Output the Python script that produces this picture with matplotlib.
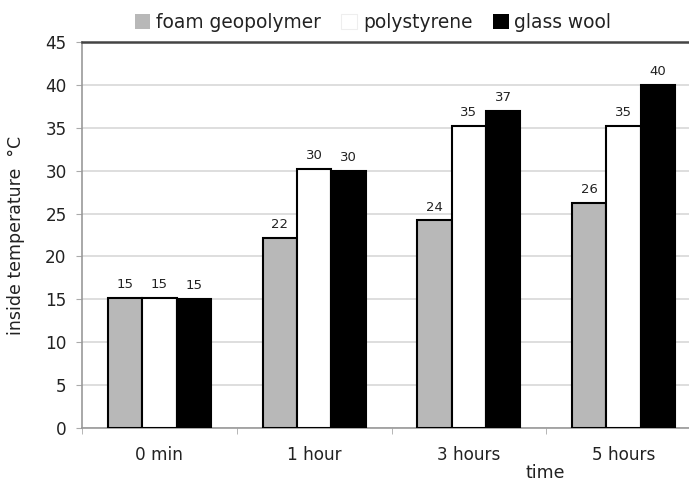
import matplotlib
matplotlib.use("Agg")
import matplotlib.pyplot as plt
import numpy as np

categories = ["0 min", "1 hour", "3 hours", "5 hours"]
series_names = ["foam geopolymer", "polystyrene", "glass wool"]
foam = [15.2, 22.2, 24.2, 26.2]
poly = [15.2, 30.2, 35.2, 35.2]
glass = [15.0, 30.0, 37.0, 40.0]
colors = ["#b8b8b8", "#ffffff", "#000000"]


def main():
    plt.rcParams["font.family"] = ["DejaVu Sans"]
    fig = plt.figure(figsize=(6.89, 4.8), dpi=100)
    ax = fig.add_axes([82 / 689, 1 - 428 / 480, 619 / 689, 386 / 480])

    x = np.arange(len(categories))
    w = 0.222
    for i, (vals, name, c) in enumerate(zip([foam, poly, glass], series_names, colors)):
        ax.bar(x + (i - 1) * w, vals, w, color=c, edgecolor="black",
               linewidth=1.5, label=name, zorder=3)
        for xi, v in zip(x + (i - 1) * w, vals):
            ax.text(xi, v + 0.8, f"{v:.0f}", ha="center", va="bottom",
                    fontsize=9.5, color="#222222")

    ax.set_xlim(-0.5, len(categories) - 0.5)
    ax.set_ylim(0, 45)
    ax.set_yticks(np.arange(0, 46, 5))
    ax.yaxis.grid(True, color="#d8d8d8", linewidth=1.2, zorder=0)
    ax.set_axisbelow(True)

    ax.set_xticks(x)
    ax.set_xticklabels(categories, fontsize=12.2, color="#222222")
    ax.tick_params(axis="x", which="major", length=0, pad=13)
    ax.set_xticks(np.arange(-0.5, len(categories), 1), minor=True)
    ax.tick_params(axis="x", which="minor", length=4, color="#aaaaaa")
    ax.tick_params(axis="y", length=4, color="#aaaaaa", labelsize=12.2,
                   labelcolor="#222222", pad=7)

    for s in ["left", "bottom"]:
        ax.spines[s].set_color("#999999")
        ax.spines[s].set_linewidth(1.2)
    ax.spines["top"].set_color("#444444")
    ax.spines["top"].set_linewidth(1.8)
    ax.spines["right"].set_visible(False)

    ax.set_ylabel("inside temperature  °C", fontsize=12.5, color="#222222")
    ax.yaxis.set_label_coords(-0.092, 0.5)
    ax.set_xlabel("time", fontsize=12.5, color="#222222")
    ax.xaxis.set_label_coords(0.749, -0.092)

    leg = ax.legend(loc="center", bbox_to_anchor=(0.47, 1.05), ncol=3,
                    frameon=False, fontsize=13.4, handlelength=0.85,
                    handleheight=0.85, handletextpad=0.3, columnspacing=1.1,
                    borderaxespad=0.0, borderpad=0.0)
    for t in leg.get_texts():
        t.set_color("#222222")
    for h in leg.legend_handles:
        h.set_linewidth(0)
    leg.legend_handles[1].set_edgecolor("#eeeeee")
    leg.legend_handles[1].set_linewidth(0.8)

    fig.savefig("out.png", dpi=100)


if __name__ == "__main__":
    main()
